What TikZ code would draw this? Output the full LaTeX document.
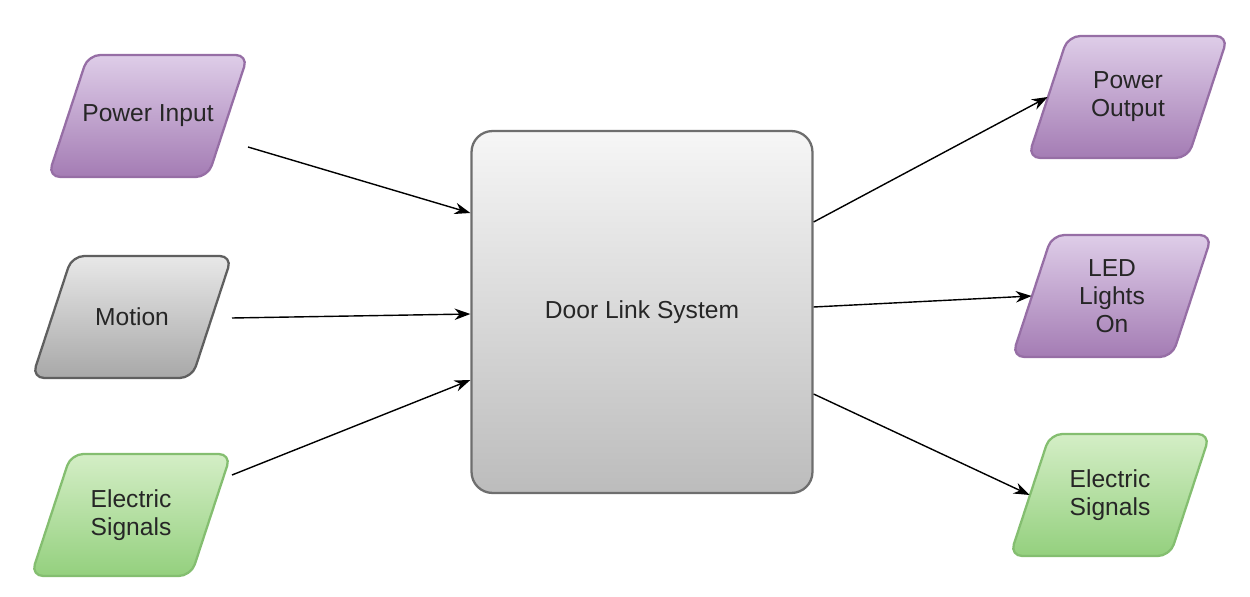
\documentclass[tikz,border=0pt]{standalone}
\usepackage{fontspec}
\setmainfont{Liberation Sans}
\usetikzlibrary{arrows.meta,calc}
\definecolor{purpTop}{RGB}{222,205,232}
\definecolor{purpBot}{RGB}{164,124,180}
\definecolor{purpLine}{RGB}{150,110,165}
\definecolor{greyTop}{RGB}{232,232,232}
\definecolor{greyBot}{RGB}{168,168,168}
\definecolor{greyLine}{RGB}{95,95,95}
\definecolor{grnTop}{RGB}{212,238,198}
\definecolor{grnBot}{RGB}{148,208,126}
\definecolor{grnLine}{RGB}{132,190,112}
\definecolor{boxTop}{RGB}{246,246,246}
\definecolor{boxBot}{RGB}{188,188,188}
\definecolor{boxLine}{RGB}{110,110,110}

% parallelogram with its label node: style, centre, name, text
\newcommand{\iobox}[4]{%
  \path[#1] (#2) ++(-60,-61) -- ++(160,0) -- ++(-40,122) -- ++(-160,0) -- cycle;
  \node[lbl] (#3) at (#2) {#4};}

\begin{document}
\begin{tikzpicture}[x=0.02cm,y=-0.02cm,
    para/.style={rounded corners=7pt, line width=1.3pt},
    purp/.style={para, draw=purpLine, top color=purpTop, bottom color=purpBot},
    grey/.style={para, draw=greyLine, top color=greyTop, bottom color=greyBot},
    grn/.style={para, draw=grnLine, top color=grnTop, bottom color=grnBot},
    lbl/.style={minimum width=3.2cm, minimum height=2.44cm, inner sep=0pt, align=center,
      font=\fontsize{14}{16}\selectfont, text=black!85},
    sysbox/.style={rectangle, rounded corners=0.42cm, draw=boxLine, line width=1.3pt,
      top color=boxTop, bottom color=boxBot, minimum width=6.82cm, minimum height=7.24cm,
      font=\fontsize{14}{16}\selectfont, text=black!85},
    arr/.style={-{Stealth[length=9pt,width=6.5pt]}, line width=0.8pt}]

    \useasboundingbox (0,0) rectangle (1250,597);

    % inputs
    \iobox{purp}{148,116}{pin}{Power Input}
    \iobox{grey}{132,317}{mot}{Motion}
    \iobox{grn}{131,515}{esin}{Electric\\Signals}

    % system
    \node[sysbox] (door) at (642,312) {Door Link System};

    % outputs
    \iobox{purp}{1128,97}{pout}{Power\\Output}
    \iobox{purp}{1112,296}{led}{LED\\Lights\\On}
    \iobox{grn}{1110,495}{esout}{Electric\\Signals}

    % arrow tails
    \coordinate (pinT) at (248,147);
    \coordinate (motT) at (232,318);
    \coordinate (esinT) at (232,475);

    \draw[arr] (pinT) -- ($(door.west)+(0,-99)$);
    \draw[arr] (motT) -- ($(door.west)+(0,2)$);
    \draw[arr] (esinT) -- ($(door.west)+(0,68)$);

    \draw[arr] ($(door.east)+(0,-90)$) -- (pout.west);
    \draw[arr] ($(door.east)+(0,-5)$) -- (led.west);
    \draw[arr] ($(door.east)+(0,82)$) -- (esout.west);

\end{tikzpicture}
\end{document}
